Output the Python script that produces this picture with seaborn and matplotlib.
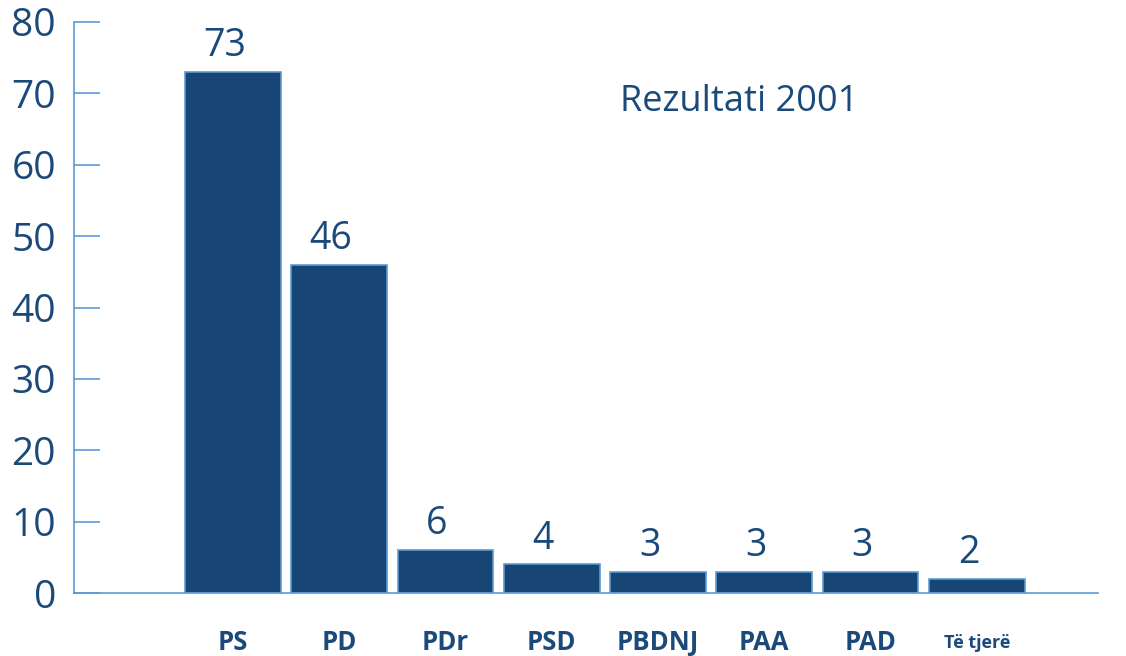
import matplotlib
matplotlib.use("Agg")
import matplotlib.pyplot as plt
import seaborn as sns
import pandas as pd

parties = ["PS", "PD", "PDr", "PSD", "PBDNJ", "PAA", "PAD", "Të tjerë"]
seats = [73, 46, 6, 4, 3, 3, 3, 2]
yticks = [0, 10, 20, 30, 40, 50, 60, 70, 80]
title = "Rezultati 2001"

sns.set_style("white")
plt.rcParams['font.family'] = ['Open Sans', 'DejaVu Sans']

DARK = "#174675"
LIGHT = "#5B9BD5"
TEXT = "#1B4A7A"

df = pd.DataFrame({"party": parties, "seats": seats})

fig = plt.figure(figsize=(11.26, 6.56), dpi=100)
ax = fig.add_axes([74/1126, 63/656, (1098-74)/1126, (593-22)/656])

sns.barplot(data=df, x="party", y="seats", color=DARK, width=0.9,
            edgecolor=LIGHT, linewidth=1.2, saturation=1, ax=ax)

ax.set_xlim(-1.496, 8.14)
ax.set_ylim(0, 80)
ax.set_yticks(yticks)
ax.set_yticklabels([str(t) for t in yticks], fontsize=28, color=TEXT)
ax.set_xlabel("")
ax.set_ylabel("")

for sp in ["top", "right"]:
    ax.spines[sp].set_visible(False)
for sp in ["left", "bottom"]:
    ax.spines[sp].set_color(LIGHT)
    ax.spines[sp].set_linewidth(1.2)

ax.tick_params(axis="y", left=True, direction="in", length=19, width=1.2,
               color=LIGHT, pad=13)
ax.tick_params(axis="x", bottom=False, length=0)

labels = ax.get_xticklabels()
for lab, name in zip(labels, parties):
    lab.set_color(TEXT)
    lab.set_fontweight("bold")
    lab.set_fontsize(13 if name == "Të tjerë" else 18.5)
    lab.set_va("center")
ax.tick_params(axis="x", pad=36)

for i, v in enumerate(seats):
    ax.annotate(str(v), (i - 0.08, v), xytext=(0, 5), textcoords="offset points",
                ha="center", va="bottom", fontsize=27, color=TEXT)

ax.text(0.65, 0.86, title, transform=ax.transAxes, ha="center", va="center",
        fontsize=26, color=TEXT)

fig.savefig("out.png", dpi=100)
